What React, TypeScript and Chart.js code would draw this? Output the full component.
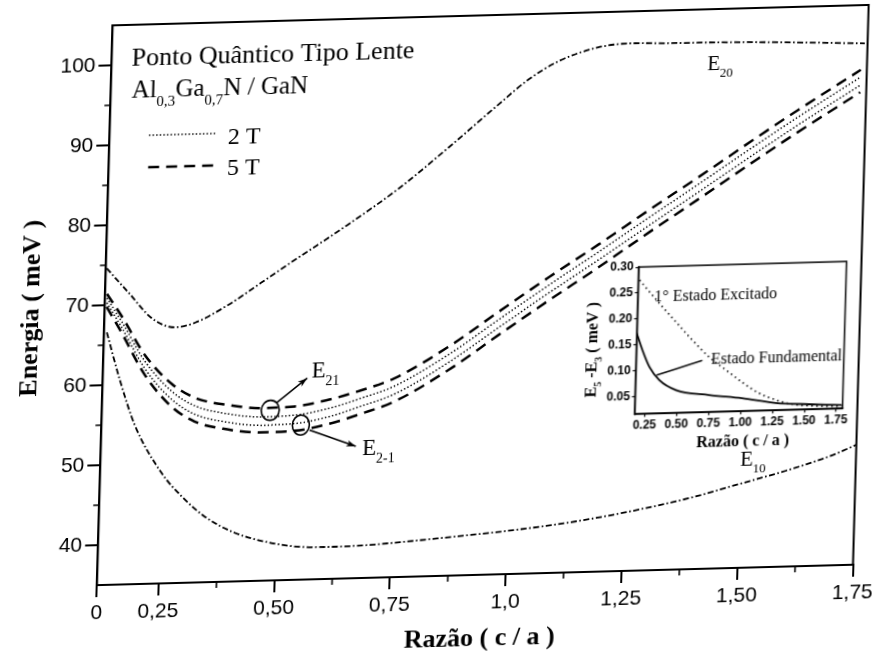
import React, { useEffect, useRef } from "react";
import { Chart, registerables } from "chart.js";

Chart.register(...registerables);

const SERIF = '"Liberation Serif", "Times New Roman", "DejaVu Serif", serif';
const SANS = '"Liberation Sans", Arial, "DejaVu Sans", sans-serif';

// ---------- main panel: axes ----------
const X_MIN = 0.117;
const X_MAX = 1.75;
const Y_MIN = 35;
const Y_MAX = 105;
const X_TICKS = [X_MIN, 0.25, 0.5, 0.75, 1.0, 1.25, 1.5, 1.75];
const X_TICK_LABELS = ["0", "0,25", "0,50", "0,75", "1,0", "1,25", "1,50", "1,75"];
const X_MINOR = [0.375, 0.625, 0.875, 1.125, 1.375, 1.625];
const Y_TICKS = [40, 50, 60, 70, 80, 90, 100];
const Y_TICK_LABELS = ["40", "50", "60", "70", "80", "90", "100"];
const Y_MINOR = [45, 55, 65, 75, 85, 95];

// ---------- main panel: energy levels (meV) vs c/a ----------
const E20_X = [0.119, 0.166, 0.22, 0.27, 0.3125, 0.383, 0.454, 0.524, 0.594, 0.636, 0.745, 0.851, 0.956, 1.019, 1.083, 1.168, 1.239, 1.313, 1.455, 1.599, 1.744];
const E20_Y = [74.6, 71.6, 68.2, 67.0, 67.5, 69.6, 72.3, 75.0, 77.6, 79.2, 83.6, 88.6, 93.8, 96.8, 99.0, 100.6, 101.0, 100.9, 100.8, 100.55, 100.2];

const E10_X = [0.123, 0.154, 0.189, 0.25, 0.295, 0.346, 0.411, 0.483, 0.556, 0.628, 0.699, 0.757, 0.85, 1.0, 1.1, 1.2, 1.3, 1.4, 1.5, 1.6, 1.7, 1.75];
const E10_Y = [66.6, 60.6, 54.9, 48.8, 45.8, 43.2, 41.1, 39.8, 39.1, 39.0, 39.1, 39.3, 39.7, 40.4, 41.0, 41.8, 42.8, 44.0, 45.5, 47.0, 48.8, 50.0];

// Zeeman-split pair E21 / E2-1 at 2 T (dotted) and 5 T (dashed)
const PAIR_X = [0.121, 0.155, 0.207, 0.267, 0.318, 0.389, 0.463, 0.534, 0.605, 0.677, 0.748, 0.864, 0.97, 1.075, 1.181, 1.287, 1.392, 1.519, 1.604, 1.737];
const E21_5T = [71.4, 68.5, 63.6, 59.9, 58.1, 57.1, 56.6, 56.7, 57.4, 58.5, 59.9, 63.7, 67.9, 72.0, 75.95, 80.05, 84.0, 88.9, 92.1, 96.9];
const E21_2T = [70.9, 67.85, 62.85, 59.0, 57.1, 56.0, 55.5, 55.6, 56.3, 57.5, 58.9, 62.7, 66.9, 71.0, 75.0, 79.1, 83.1, 88.0, 91.2, 96.0];
const E2M1_2T = [70.3, 67.15, 61.95, 58.0, 56.05, 54.95, 54.45, 54.55, 55.25, 56.5, 57.9, 61.7, 65.9, 70.0, 74.0, 78.1, 82.1, 87.0, 90.2, 95.0];
const E2M1_5T = [69.8, 66.5, 61.2, 57.1, 55.15, 54.05, 53.55, 53.65, 54.35, 55.55, 56.95, 60.75, 64.95, 69.05, 73.05, 77.2, 81.2, 86.1, 89.3, 94.1];

// ---------- inset: E5 - E3 (meV) vs c/a ----------
const IN_X_MIN = 0.17;
const IN_X_MAX = 1.8;
const IN_Y_MIN = 0.017;
const IN_Y_MAX = 0.3;
const IN_X_TICKS = [0.25, 0.5, 0.75, 1.0, 1.25, 1.5, 1.75];
const IN_X_TICK_LABELS = ["0.25", "0.50", "0.75", "1.00", "1.25", "1.50", "1.75"];
const IN_Y_TICKS = [0.05, 0.1, 0.15, 0.2, 0.25, 0.3];
const IN_Y_TICK_LABELS = ["0.05", "0.10", "0.15", "0.20", "0.25", "0.30"];

const EXC_X = [0.18, 0.341, 0.477, 0.606, 0.743, 0.879, 1.006, 1.141, 1.276, 1.402, 1.668, 1.793];
const EXC_Y = [0.275, 0.229, 0.192, 0.157, 0.123, 0.097, 0.073, 0.051, 0.037, 0.028, 0.0225, 0.0217];
const FUND_X = [0.167, 0.218, 0.277, 0.358, 0.492, 0.752, 1.01, 1.277, 1.535, 1.793];
const FUND_Y = [0.175, 0.14, 0.107, 0.081, 0.061, 0.05, 0.042, 0.031, 0.027, 0.0237];

// ---------- canvas geometry ----------
const MAIN_W = 877;
const MAIN_H = 670;
const AREA = { left: 96.3, top: 25, right: 854, bottom: 585 };
const INSET_BOX = { left: 540, top: 265, width: 310, height: 210 };
const INSET_AREA = { left: 89.4, top: 16.1, right: 297.4, bottom: 163.2 };

type Part = { t: string; sub?: boolean };

const pts = (xs: number[], ys: number[]) => xs.map((x, i) => ({ x, y: ys[i] }));

function richWidth(ctx: CanvasRenderingContext2D, parts: Part[], size: number, bold: boolean, sub: number) {
  let w = 0;
  for (const p of parts) {
    ctx.font = `${bold ? "bold " : ""}${p.sub ? sub : size}px ${SERIF}`;
    w += ctx.measureText(p.t).width;
  }
  return w;
}

function drawRich(
  ctx: CanvasRenderingContext2D,
  parts: Part[],
  x: number,
  y: number,
  size: number,
  opts: { bold?: boolean; sub?: number; drop?: number } = {}
) {
  const bold = !!opts.bold;
  const sub = opts.sub ?? Math.round(size * 0.62);
  const drop = opts.drop ?? size * 0.34;
  let cx = x;
  ctx.textAlign = "left";
  ctx.textBaseline = "alphabetic";
  for (const p of parts) {
    ctx.font = `${bold ? "bold " : ""}${p.sub ? sub : size}px ${SERIF}`;
    ctx.fillText(p.t, cx, p.sub ? y + drop : y);
    cx += ctx.measureText(p.t).width;
  }
}

function arrow(ctx: CanvasRenderingContext2D, x1: number, y1: number, x2: number, y2: number, head = 10) {
  ctx.beginPath();
  ctx.moveTo(x1, y1);
  ctx.lineTo(x2, y2);
  ctx.stroke();
  const a = Math.atan2(y2 - y1, x2 - x1);
  ctx.beginPath();
  ctx.moveTo(x2, y2);
  ctx.lineTo(x2 - head * Math.cos(a - 0.33), y2 - head * Math.sin(a - 0.33));
  ctx.lineTo(x2 - head * 0.7 * Math.cos(a), y2 - head * 0.7 * Math.sin(a));
  ctx.lineTo(x2 - head * Math.cos(a + 0.33), y2 - head * Math.sin(a + 0.33));
  ctx.closePath();
  ctx.fill();
}

function lineSet(label: string, xs: number[], ys: number[], dash: number[], width: number) {
  return {
    label,
    data: pts(xs, ys),
    borderColor: "#000",
    backgroundColor: "#000",
    borderWidth: width,
    borderDash: dash,
    borderCapStyle: "butt" as const,
    pointRadius: 0,
    fill: false,
    cubicInterpolationMode: "monotone" as const,
  };
}

const DASH_DOT = [6, 2.5, 1.6, 2.5];
const DASHED = [11, 7];
const DOTTED = [1.4, 2.2];

// annotations drawn on the main panel
const mainDecor = {
  id: "mainDecor",
  afterDraw(chart: any) {
    const { ctx, chartArea: a } = chart;
    const xs = chart.scales.x;
    const ys = chart.scales.y;
    const px = (v: number) => xs.getPixelForValue(v);
    const py = (v: number) => ys.getPixelForValue(v);
    ctx.save();
    ctx.strokeStyle = "#000";
    ctx.fillStyle = "#000";

    // frame
    ctx.lineWidth = 2;
    ctx.strokeRect(a.left, a.top, a.right - a.left, a.bottom - a.top);

    // minor ticks
    ctx.lineWidth = 1.6;
    ctx.beginPath();
    for (const v of X_MINOR) {
      ctx.moveTo(px(v), a.bottom);
      ctx.lineTo(px(v), a.bottom + 6);
    }
    for (const v of Y_MINOR) {
      ctx.moveTo(a.left - 6, py(v));
      ctx.lineTo(a.left, py(v));
    }
    ctx.stroke();

    // axis titles
    ctx.font = `bold 26px ${SERIF}`;
    ctx.textAlign = "center";
    ctx.textBaseline = "middle";
    ctx.fillText("Razão ( c / a )", (a.left + a.right) / 2 + 6, a.bottom + 64);
    ctx.save();
    ctx.translate(23.6, (a.top + a.bottom) / 2 + 1);
    ctx.rotate(-Math.PI / 2);
    ctx.fillText("Energia ( meV )", 0, 0);
    ctx.restore();

    // heading
    ctx.textAlign = "left";
    ctx.textBaseline = "alphabetic";
    ctx.font = `26px ${SERIF}`;
    ctx.fillText("Ponto Quântico Tipo Lente", a.left + 20, a.top + 40.6);
    drawRich(
      ctx,
      [{ t: "Al" }, { t: "0,3", sub: true }, { t: "Ga" }, { t: "0,7", sub: true }, { t: "N / GaN" }],
      a.left + 21,
      a.top + 72.9,
      25,
      { sub: 15, drop: 9 }
    );

    // legend
    const lx0 = a.left + 39.5;
    const lx1 = a.left + 107.5;
    ctx.lineWidth = 1.5;
    ctx.setLineDash(DOTTED);
    ctx.beginPath();
    ctx.moveTo(lx0, a.top + 111);
    ctx.lineTo(lx1, a.top + 111);
    ctx.stroke();
    ctx.lineWidth = 2.5;
    ctx.setLineDash(DASHED);
    ctx.beginPath();
    ctx.moveTo(lx0, a.top + 143);
    ctx.lineTo(lx1, a.top + 143);
    ctx.stroke();
    ctx.setLineDash([]);
    ctx.font = `24px ${SERIF}`;
    ctx.fillText("2 T", a.left + 118.4, a.top + 121.5);
    ctx.fillText("5 T", a.left + 118.4, a.top + 153.2);

    // level labels
    drawRich(ctx, [{ t: "E" }, { t: "20", sub: true }], px(1.405), py(97.35), 21, { sub: 13, drop: 7 });
    drawRich(ctx, [{ t: "E" }, { t: "21", sub: true }], px(0.568), py(60.3), 23, { sub: 14, drop: 8 });
    drawRich(ctx, [{ t: "E" }, { t: "2-1", sub: true }], px(0.682), py(50.4), 23, { sub: 14, drop: 8 });
    drawRich(ctx, [{ t: "E" }, { t: "10", sub: true }], px(1.5), py(47.7), 21, { sub: 13, drop: 7 });

    // circled crossings and arrows
    ctx.lineWidth = 1.6;
    ctx.beginPath();
    ctx.ellipse(px(0.481), py(56.3), 9, 10, 0, 0, Math.PI * 2);
    ctx.stroke();
    ctx.beginPath();
    ctx.ellipse(px(0.548), py(54.35), 8.5, 10, 0, 0, Math.PI * 2);
    ctx.stroke();
    arrow(ctx, px(0.494), py(57.2), px(0.559), py(60.2));
    arrow(ctx, px(0.567), py(53.7), px(0.668), py(51.5));

    ctx.restore();
  },
};

// annotations drawn on the inset
const insetDecor = {
  id: "insetDecor",
  afterDraw(chart: any) {
    const { ctx, chartArea: a } = chart;
    const xs = chart.scales.x;
    const ys = chart.scales.y;
    const px = (v: number) => xs.getPixelForValue(v);
    const py = (v: number) => ys.getPixelForValue(v);
    ctx.save();
    ctx.strokeStyle = "#000";
    ctx.fillStyle = "#000";
    ctx.lineWidth = 1.5;
    ctx.strokeRect(a.left, a.top, a.right - a.left, a.bottom - a.top);

    ctx.font = `16px ${SERIF}`;
    ctx.textAlign = "left";
    ctx.textBaseline = "alphabetic";
    ctx.fillText("1° Estado Excitado", px(0.3), py(0.232));
    ctx.fillText("Estado Fundamental", px(0.758), py(0.109));
    ctx.lineWidth = 1.4;
    ctx.beginPath();
    ctx.moveTo(px(0.334), py(0.091));
    ctx.lineTo(px(0.689), py(0.117));
    ctx.stroke();

    // axis titles
    ctx.font = `bold 16px ${SERIF}`;
    ctx.textAlign = "center";
    ctx.textBaseline = "middle";
    ctx.fillText("Razão ( c / a )", (a.left + a.right) / 2 + 5, a.bottom + 31);
    const parts: Part[] = [{ t: "E" }, { t: "5", sub: true }, { t: " -E" }, { t: "3", sub: true }, { t: " ( meV )" }];
    const w = richWidth(ctx, parts, 16, true, 10);
    ctx.save();
    ctx.translate(44.2, (a.top + a.bottom) / 2 + 8);
    ctx.rotate(-Math.PI / 2);
    drawRich(ctx, parts, -w / 2, 6, 16, { bold: true, sub: 10, drop: 5 });
    ctx.restore();
    ctx.restore();
  },
};

function mainConfig(): any {
  return {
    type: "line",
    data: {
      datasets: [
        lineSet("E20", E20_X, E20_Y, DASH_DOT, 1.8),
        lineSet("E10", E10_X, E10_Y, DASH_DOT, 1.8),
        lineSet("E21 5 T", PAIR_X, E21_5T, DASHED, 2.5),
        lineSet("E21 2 T", PAIR_X, E21_2T, DOTTED, 1.5),
        lineSet("E2-1 2 T", PAIR_X, E2M1_2T, DOTTED, 1.5),
        lineSet("E2-1 5 T", PAIR_X, E2M1_5T, DASHED, 2.5),
      ],
    },
    options: {
      responsive: false,
      animation: false,
      events: [],
      layout: { padding: { top: AREA.top, right: MAIN_W - AREA.right, left: 0, bottom: 0 } },
      plugins: { legend: { display: false }, tooltip: { enabled: false } },
      scales: {
        x: {
          type: "linear",
          min: X_MIN,
          max: X_MAX,
          afterBuildTicks: (s: any) => {
            s.ticks = X_TICKS.map((value) => ({ value }));
          },
          afterFit: (s: any) => {
            s.height = MAIN_H - AREA.bottom;
          },
          ticks: {
            autoSkip: false,
            maxRotation: 0,
            minRotation: 0,
            padding: 4,
            color: "#000",
            font: { family: SANS, size: 21 },
            callback: (_v: any, i: number) => X_TICK_LABELS[i],
          },
          grid: { drawOnChartArea: false, drawTicks: true, tickLength: 12, color: "#000", lineWidth: 2 },
          border: { display: true, color: "#000", width: 2 },
        },
        y: {
          type: "linear",
          min: Y_MIN,
          max: Y_MAX,
          afterBuildTicks: (s: any) => {
            s.ticks = Y_TICKS.map((value) => ({ value }));
          },
          afterFit: (s: any) => {
            s.width = AREA.left;
          },
          ticks: {
            padding: 3,
            color: "#000",
            font: { family: SANS, size: 21 },
            callback: (_v: any, i: number) => Y_TICK_LABELS[i],
          },
          grid: { drawOnChartArea: false, drawTicks: true, tickLength: 13, color: "#000", lineWidth: 2 },
          border: { display: true, color: "#000", width: 2 },
        },
      },
    },
    plugins: [mainDecor],
  };
}

function insetConfig(): any {
  return {
    type: "line",
    data: {
      datasets: [
        lineSet("1° Estado Excitado", EXC_X, EXC_Y, [1.5, 3.5], 1.6),
        lineSet("Estado Fundamental", FUND_X, FUND_Y, [], 1.8),
      ],
    },
    options: {
      responsive: false,
      animation: false,
      events: [],
      layout: {
        padding: { top: INSET_AREA.top, right: INSET_BOX.width - INSET_AREA.right, left: 0, bottom: 0 },
      },
      plugins: { legend: { display: false }, tooltip: { enabled: false } },
      scales: {
        x: {
          type: "linear",
          min: IN_X_MIN,
          max: IN_X_MAX,
          afterBuildTicks: (s: any) => {
            s.ticks = IN_X_TICKS.map((value) => ({ value }));
          },
          afterFit: (s: any) => {
            s.height = INSET_BOX.height - INSET_AREA.bottom;
          },
          ticks: {
            autoSkip: false,
            maxRotation: 0,
            minRotation: 0,
            padding: 1,
            color: "#000",
            font: { family: SANS, size: 12, weight: "bold" },
            callback: (_v: any, i: number) => IN_X_TICK_LABELS[i],
          },
          grid: { drawOnChartArea: false, drawTicks: true, tickLength: 3, color: "#000", lineWidth: 1.2 },
          border: { display: true, color: "#000", width: 1.5 },
        },
        y: {
          type: "linear",
          min: IN_Y_MIN,
          max: IN_Y_MAX,
          afterBuildTicks: (s: any) => {
            s.ticks = IN_Y_TICKS.map((value) => ({ value }));
          },
          afterFit: (s: any) => {
            s.width = INSET_AREA.left;
          },
          ticks: {
            padding: 2,
            color: "#000",
            font: { family: SANS, size: 12, weight: "bold" },
            callback: (_v: any, i: number) => IN_Y_TICK_LABELS[i],
          },
          grid: { drawOnChartArea: false, drawTicks: true, tickLength: 3, color: "#000", lineWidth: 1.2 },
          border: { display: true, color: "#000", width: 1.5 },
        },
      },
    },
    plugins: [insetDecor],
  };
}

export default function App() {
  const mainRef = useRef<HTMLCanvasElement>(null);
  const insetRef = useRef<HTMLCanvasElement>(null);

  useEffect(() => {
    const main = new Chart(mainRef.current as HTMLCanvasElement, mainConfig());
    const inset = new Chart(insetRef.current as HTMLCanvasElement, insetConfig());
    return () => {
      main.destroy();
      inset.destroy();
    };
  }, []);

  return (
    <div
      style={{
        position: "fixed",
        left: 0,
        top: 0,
        width: MAIN_W,
        height: 651,
        overflow: "hidden",
        background: "#fff",
      }}
    >
      <div
        style={{
          position: "absolute",
          left: 0,
          top: 0,
          width: MAIN_W,
          height: MAIN_H,
          transformOrigin: "0 0",
          transform: "matrix(1, -0.027, -0.028, 1, 17.1, 2.97)",
        }}
      >
        <canvas
          ref={mainRef}
          width={MAIN_W}
          height={MAIN_H}
          style={{ position: "absolute", left: 0, top: 0, width: MAIN_W, height: MAIN_H }}
        />
        <canvas
          ref={insetRef}
          width={INSET_BOX.width}
          height={INSET_BOX.height}
          style={{
            position: "absolute",
            left: INSET_BOX.left,
            top: INSET_BOX.top,
            width: INSET_BOX.width,
            height: INSET_BOX.height,
          }}
        />
      </div>
    </div>
  );
}
